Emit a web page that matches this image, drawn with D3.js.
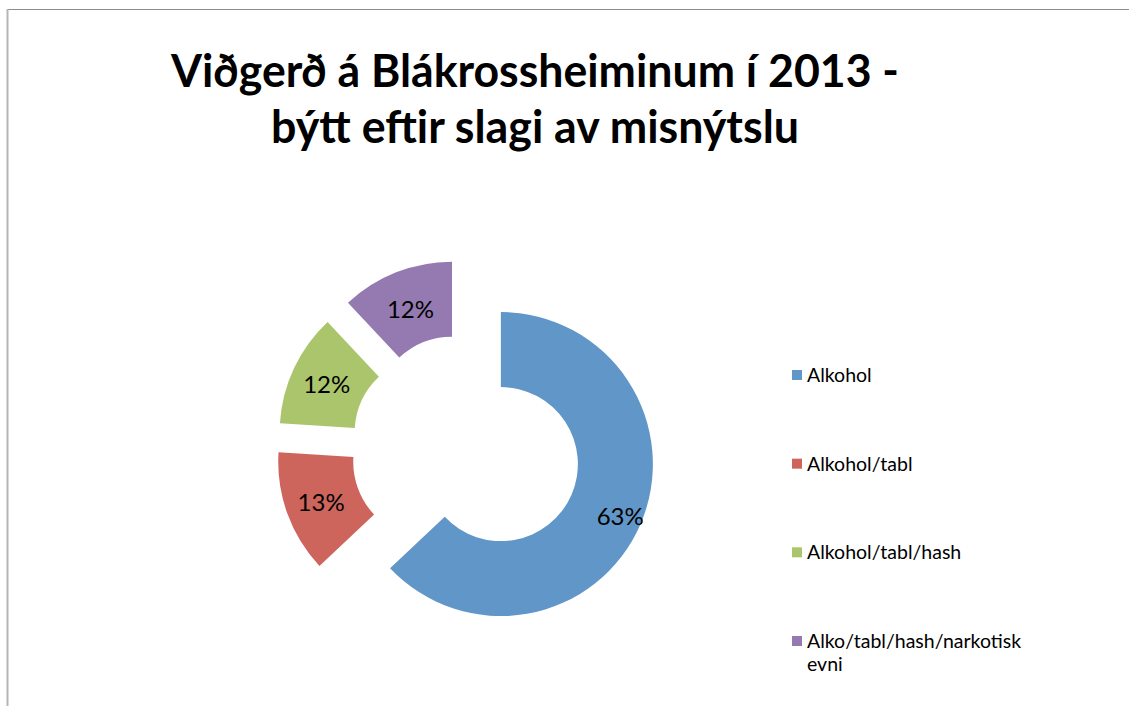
<!DOCTYPE html>
<html>
<head>
<meta charset="utf-8">
<script src="https://cdn.jsdelivr.net/npm/d3@7"></script>
<style>
  html, body { margin: 0; padding: 0; background: #fff; }
  svg { display: block; }
</style>
</head>
<body>
<svg id="chart" width="1129" height="706"></svg>
<script>
// ---- data ----
const titleLines = ["Viðgerð á Blákrossheiminum í 2013 -", "býtt eftir slagi av misnýtslu"];
const categories = ["Alkohol", "Alkohol/tabl", "Alkohol/tabl/hash", "Alko/tabl/hash/narkotisk evni"];
const legendLines = [["Alkohol"], ["Alkohol/tabl"], ["Alkohol/tabl/hash"], ["Alko/tabl/hash/narkotisk", "evni"]];
const values = [63, 13, 12, 12];
const colors = ["#6196C8", "#CE655C", "#ABC56C", "#947AB0"];

// ---- layout ----
const W = 1129, H = 706;
const cx = 466, cy = 449;
const outerR = 152, innerR = 77, explode = 38;
const labelRadii = [130, 116, 116, 113];
const font = "Lato, 'Open Sans', sans-serif";

const svg = d3.select("#chart");

// border (top + left visible)
svg.append("line").attr("x1", 7).attr("x2", W).attr("y1", 9.5).attr("y2", 9.5)
  .attr("stroke", "#8c8c8c").attr("stroke-width", 1);
svg.append("line").attr("x1", 7.5).attr("x2", 7.5).attr("y1", 9).attr("y2", H)
  .attr("stroke", "#b5b5b5").attr("stroke-width", 2);

// title
const title = svg.append("text")
  .attr("text-anchor", "middle")
  .attr("font-family", font).attr("font-weight", "bold")
  .attr("font-size", 46).attr("fill", "#000");
const titleWidths = [728, 528];
titleLines.forEach((t, i) => {
  title.append("tspan").attr("x", 535).attr("y", 87 + i * 56)
    .attr("textLength", titleWidths[i]).attr("lengthAdjust", "spacingAndGlyphs")
    .text(t);
});

// pie
const total = d3.sum(values);
const pie = d3.pie().sort(null).value(d => d).startAngle(0).endAngle(2 * Math.PI);
const arcs = pie(values);
const arc = d3.arc().innerRadius(innerR).outerRadius(outerR);

const g = svg.append("g").attr("transform", `translate(${cx},${cy})`);
const slices = g.selectAll("g.slice").data(arcs).enter().append("g")
  .attr("class", "slice")
  .attr("transform", d => {
    const m = (d.startAngle + d.endAngle) / 2;
    return `translate(${explode * Math.sin(m)},${-explode * Math.cos(m)})`;
  });
slices.append("path").attr("d", arc).attr("fill", (d, i) => colors[i]);
slices.append("text")
  .attr("x", (d, i) => labelRadii[i] * Math.sin((d.startAngle + d.endAngle) / 2))
  .attr("y", (d, i) => -labelRadii[i] * Math.cos((d.startAngle + d.endAngle) / 2))
  .attr("dy", "0.4em")
  .attr("text-anchor", "middle")
  .attr("font-family", font).attr("font-size", 24).attr("fill", "#000")
  .text(d => Math.round(d.value / total * 100) + "%");

// legend
const legendY = d3.scalePoint().domain(categories).range([375, 641]);
const leg = svg.append("g");
categories.forEach((c, i) => {
  const y = legendY(c);
  leg.append("rect").attr("x", 792).attr("y", y - 5).attr("width", 10).attr("height", 10)
    .attr("fill", colors[i]);
  const t = leg.append("text").attr("font-family", font).attr("font-size", 19.5).attr("fill", "#000");
  legendLines[i].forEach((ln, j) => {
    t.append("tspan").attr("x", 807).attr("y", y + 7 + j * 23).text(ln);
  });
});
</script>
</body>
</html>
